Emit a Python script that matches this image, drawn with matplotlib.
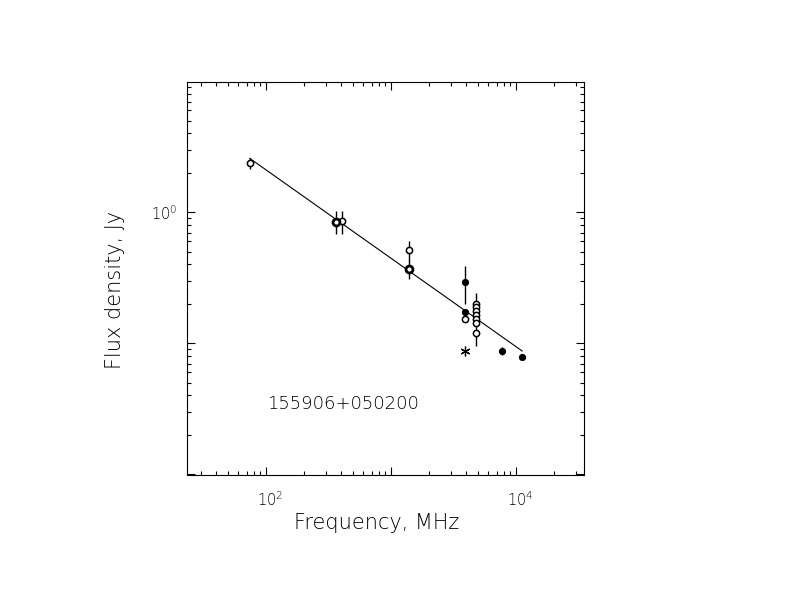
import numpy as np
import matplotlib
matplotlib.use('Agg')
import matplotlib.pyplot as plt
import matplotlib.transforms as mtransforms
from matplotlib.ticker import LogLocator, FuncFormatter

# open circles (MHz, Jy)
open_freq = [74, 408, 1400, 3900, 4800, 4800, 4800, 4800, 4800, 4800, 4800]
open_flux = [2.37, 0.858, 0.511, 0.152, 0.201, 0.189, 0.177, 0.163, 0.153, 0.144, 0.119]
open_err_lo = [0.22, 0.17, 0.09, 0.005, 0.008, 0.008, 0.008, 0.067, 0.008, 0.008, 0.008]
open_err_hi = [0.22, 0.17, 0.09, 0.005, 0.008, 0.008, 0.008, 0.081, 0.008, 0.008, 0.008]

# heavy circles
thick_freq = [365, 1400]
thick_flux = [0.848, 0.372]
thick_err = [0.17, 0.06]

# filled dots
filled_freq = [3900, 3900, 7700, 11200]
filled_flux = [0.295, 0.172, 0.0879, 0.079]
filled_err = [0.095, 0.01, 0.0065, 0.004]

# asterisk
star_freq = [3900]
star_flux = [0.0873]

# power-law fit end points
fit_freq = [74, 11200]
fit_flux = [2.58, 0.0873]

x_tick_labels = {100: '$10^{2}$', 10000: '$10^{4}$'}
y_tick_labels = {1: '$10^{0}$'}
source_name = '155906+050200'

plt.rcParams['font.weight'] = 'light'

fig = plt.figure(figsize=(7.92, 6.12), dpi=100)
ax = fig.add_axes([0.2361, 0.2239, 0.5013, 0.6422])

ax.set_xscale('log')
ax.set_yscale('log')

ax.plot(fit_freq, fit_flux, color='black', lw=0.8)

ax.errorbar(open_freq, open_flux, yerr=[open_err_lo, open_err_hi], fmt='o',
            ms=4.5, mfc='white', mec='black', mew=1.1, ecolor='black',
            elinewidth=1.0, capsize=0, zorder=3)
ax.errorbar(thick_freq, thick_flux, yerr=thick_err, fmt='o',
            ms=5, mfc='white', mec='black', mew=2.0, ecolor='black',
            elinewidth=1.0, capsize=0, zorder=3)
ax.errorbar(filled_freq, filled_flux, yerr=filled_err, fmt='o',
            ms=4.2, mfc='black', mec='black', ecolor='black',
            elinewidth=1.0, capsize=0, zorder=3)
ax.plot(star_freq, star_flux, marker=(6, 2, 0), ms=7, mew=0.9,
        color='black', ls='none', zorder=3)

ax.set_xlim(23.3, 35000)
ax.set_ylim(0.00988, 9.88)

ax.xaxis.set_major_locator(LogLocator(base=10, numticks=10))
ax.xaxis.set_minor_locator(LogLocator(base=10, subs=np.arange(2, 10), numticks=20))
ax.yaxis.set_major_locator(LogLocator(base=10, numticks=10))
ax.yaxis.set_minor_locator(LogLocator(base=10, subs=np.arange(2, 10), numticks=20))
ax.xaxis.set_major_formatter(FuncFormatter(lambda v, p: x_tick_labels.get(int(round(v)), '')))
ax.yaxis.set_major_formatter(FuncFormatter(lambda v, p: y_tick_labels.get(int(round(v)) if v >= 1 else -1, '')))
ax.xaxis.set_minor_formatter(FuncFormatter(lambda v, p: ''))
ax.yaxis.set_minor_formatter(FuncFormatter(lambda v, p: ''))

ax.tick_params(which='both', direction='in', top=True, right=True, width=0.8)
ax.tick_params(which='major', length=6)
ax.tick_params(which='minor', length=3)
ax.tick_params(axis='x', labelsize=10.5, pad=11)
ax.tick_params(axis='y', labelsize=10.5, pad=7)
for sp in ax.spines.values():
    sp.set_linewidth(0.8)

shift = mtransforms.ScaledTranslation(4 / 100, 0, fig.dpi_scale_trans)
for lab in ax.get_xticklabels():
    lab.set_transform(lab.get_transform() + shift)

ax.set_xlabel('Frequency, MHz', fontsize=15, fontweight='light')
ax.set_ylabel('Flux density, Jy', fontsize=15, fontweight='light')
ax.xaxis.set_label_coords(0.479, -0.098)
ax.yaxis.set_label_coords(-0.156, 0.47)

ax.text(0.2008, 0.168, source_name, transform=ax.transAxes, fontsize=13,
        fontweight='light', ha='left', va='baseline')

fig.savefig('out.png', dpi=100)
